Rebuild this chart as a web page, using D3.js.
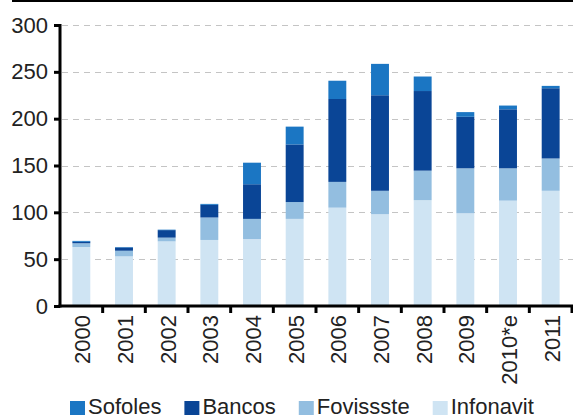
<!DOCTYPE html>
<html><head><meta charset="utf-8">
<script src="https://cdn.jsdelivr.net/npm/d3@7"></script>
<style>body{margin:0;background:#fff}svg{display:block}text{font-family:"Liberation Sans",Arial,sans-serif}</style>
</head><body><svg id="c" width="573" height="416"></svg>
<script>
const years = ["2000","2001","2002","2003","2004","2005","2006","2007","2008","2009","2010*e","2011"];
const infonavit = [63, 53, 69, 70.5, 71.5, 93, 105, 98, 113, 99, 112.5, 123];
const fovissste = [4, 6, 4, 24, 21.5, 18, 27.5, 25, 31.5, 48, 34.5, 34.5];
const bancos = [1.5, 3.5, 8, 13.5, 37, 61.5, 88.5, 102, 85, 55, 63, 75];
const sofoles = [1, 0.5, 0.5, 1, 23, 19, 19.5, 33.5, 15.5, 5, 4, 2.5];
const yTicks = [0, 50, 100, 150, 200, 250, 300];
const seriesNames = ["Infonavit","Fovissste","Bancos","Sofoles"];
const legendOrder = ["Sofoles","Bancos","Fovissste","Infonavit"];
const colors = {Sofoles:"#1b76c3", Bancos:"#0a4596", Fovissste:"#93bee0", Infonavit:"#cfe4f3"};

const svg = d3.select("#c");
const x0 = 60, x1 = 572, yTop = 25, yBot = 306;
const x = d3.scaleBand().domain(years).range([x0, x1]).paddingInner(0.58).paddingOuter(0.29);
const y = d3.scaleLinear().domain([0, 300]).range([yBot, yTop]);

const rows = years.map((yr, i) => ({year: yr, Infonavit: infonavit[i], Fovissste: fovissste[i], Bancos: bancos[i], Sofoles: sofoles[i]}));
const stack = d3.stack().keys(seriesNames)(rows);

// top rule
svg.append("line").attr("x1", 12).attr("x2", 573).attr("y1", 1).attr("y2", 1).attr("stroke", "#000").attr("stroke-width", 2);

// gridlines
svg.append("g").selectAll("line").data(yTicks.filter(d => d > 0)).join("line")
  .attr("x1", x0 + 2).attr("x2", 573).attr("y1", d => Math.round(y(d)) + 0.5).attr("y2", d => Math.round(y(d)) + 0.5)
  .attr("stroke", "#c4c4c4").attr("stroke-width", 1).attr("stroke-dasharray", "6,5");

// bars
svg.append("g").selectAll("g").data(stack).join("g").attr("fill", d => colors[d.key])
  .selectAll("rect").data(d => d).join("rect")
  .attr("x", d => x(d.data.year)).attr("width", x.bandwidth())
  .attr("y", d => y(d[1])).attr("height", d => y(d[0]) - y(d[1]));

// y axis
const yAxis = d3.axisLeft(y).tickValues(yTicks).tickSize(6).tickPadding(6);
const gy = svg.append("g").attr("transform", `translate(${x0},0)`).call(yAxis);
gy.select(".domain").remove();
gy.selectAll(".tick line").attr("stroke", "#000").attr("stroke-width", 3);
gy.selectAll(".tick text").attr("font-size", 22).attr("fill", "#222").attr("font-family", '"Liberation Sans",Arial,sans-serif');
svg.append("line").attr("x1", x0).attr("x2", x0).attr("y1", yTop - 1).attr("y2", yBot + 1.5).attr("stroke", "#000").attr("stroke-width", 3);

// x axis
svg.append("line").attr("x1", x0 - 1.5).attr("x2", 573).attr("y1", yBot).attr("y2", yBot).attr("stroke", "#000").attr("stroke-width", 3);
const step = x.step();
svg.append("g").selectAll("line").data(years).join("line")
  .attr("x1", (d) => x(d) - x.paddingInner() * step / 2 + step)
  .attr("x2", (d) => x(d) - x.paddingInner() * step / 2 + step)
  .attr("y1", yBot).attr("y2", yBot + 7).attr("stroke", "#000").attr("stroke-width", 3);
svg.append("g").selectAll("text").data(years).join("text")
  .attr("transform", d => `translate(${x(d) + x.bandwidth() / 2 + 1},315) rotate(-90)`)
  .attr("text-anchor", "end").attr("dy", "0.36em").attr("font-size", 22).attr("fill", "#222").text(d => d);

// legend
const lg = svg.append("g");
let lx = 70;
legendOrder.forEach(name => {
  lg.append("rect").attr("x", lx).attr("y", 401).attr("width", 15).attr("height", 14).attr("fill", colors[name]);
  const t = lg.append("text").attr("x", lx + 18).attr("y", 414).attr("font-size", 22).attr("fill", "#222").text(name);
  lx += 18 + t.node().getComputedTextLength() + 23;
});
</script></body></html>
